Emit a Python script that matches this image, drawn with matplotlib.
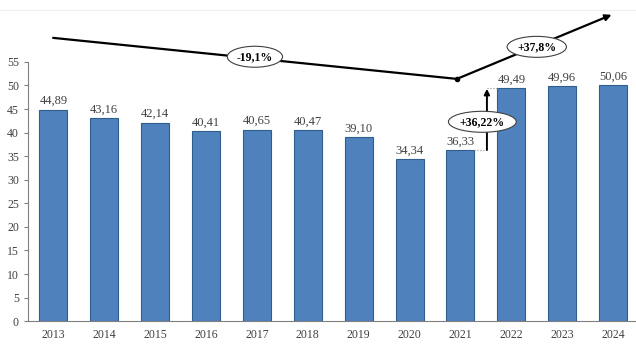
import matplotlib
matplotlib.use("Agg")
import matplotlib.pyplot as plt
from matplotlib.lines import Line2D

years = ["2013", "2014", "2015", "2016", "2017", "2018",
         "2019", "2020", "2021", "2022", "2023", "2024"]
values = [44.89, 43.16, 42.14, 40.41, 40.65, 40.47,
          39.10, 34.34, 36.33, 49.49, 49.96, 50.06]
labels = ["44,89", "43,16", "42,14", "40,41", "40,65", "40,47",
          "39,10", "34,34", "36,33", "49,49", "49,96", "50,06"]

# trend line above the bars (x in category units, y in data units)
trend_x = [0, 7.93, 10.97]
trend_y = [60.1, 51.4, 65.0]
trend_texts = ["-19,1%", "+37,8%"]
trend_text_pos = [(3.96, 56.1), (9.5, 58.2)]
jump_text = "+36,22%"
jump_x = 8.52

plt.rcParams["font.family"] = ["Liberation Serif", "DejaVu Serif"]

fig = plt.figure(figsize=(6.36, 3.58), dpi=100)
ax = fig.add_axes([0.044, 0.103, 0.956, 0.724])

x = list(range(len(years)))
ax.bar(x, values, width=0.55, color="#4F81BD", edgecolor="#2F5D8E", linewidth=0.8, zorder=2)
for xi, v, lab in zip(x, values, labels):
    ax.text(xi, v + 0.5, lab, ha="center", va="bottom", fontsize=9, color="#404040")

ax.set_xlim(-0.5, 11.45)
ax.set_ylim(0, 55)
ax.set_yticks(range(0, 56, 5))
ax.set_xticks(x)
ax.set_xticklabels(years)
ax.tick_params(axis="x", length=0, labelsize=8.5, colors="#404040", pad=6)
ax.tick_params(axis="y", length=3, labelsize=8.5, colors="#404040", color="#808080")
for s in ["top", "right"]:
    ax.spines[s].set_visible(False)
ax.spines["left"].set_color("#808080")
ax.spines["bottom"].set_color("#808080")

# trend line with arrow
ax.plot(trend_x[:2], trend_y[:2], color="black", lw=1.6, clip_on=False, zorder=3)
ax.plot(trend_x[1], trend_y[1], "o", color="black", ms=3, clip_on=False, zorder=3)
ax.annotate("", xy=(trend_x[2], trend_y[2]), xytext=(trend_x[1], trend_y[1]),
            arrowprops=dict(arrowstyle="-|>", color="black", lw=1.6, mutation_scale=9,
                            shrinkA=0, shrinkB=0),
            annotation_clip=False, zorder=3)
box = dict(boxstyle="ellipse,pad=0.12", fc="white", ec="#404040", lw=0.8)
for t, (tx, ty) in zip(trend_texts, trend_text_pos):
    ax.text(tx, ty, t, ha="center", va="center", fontsize=8.5, fontweight="bold",
            bbox=box, zorder=4, clip_on=False)

# jump 2021 -> 2022
ax.plot([8 + 0.275, jump_x], [values[8], values[8]], ls=":", color="#909090", lw=0.8, zorder=3)
ax.plot([jump_x, 9 - 0.275], [values[9], values[9]], ls=":", color="#909090", lw=0.8, zorder=3)
ax.annotate("", xy=(jump_x, values[9] - 0.2), xytext=(jump_x, values[8]),
            arrowprops=dict(arrowstyle="-|>", color="black", lw=1.4, mutation_scale=8,
                            shrinkA=0, shrinkB=0), zorder=3)
ax.text(8.43, 42.3, jump_text, ha="center", va="center", fontsize=8.5, fontweight="bold",
        bbox=box, zorder=4)

# faint top border line
fig.add_artist(Line2D([0, 1], [0.972, 0.972], color="#EEEEEE", lw=0.8))

fig.savefig("out.png", dpi=100)
